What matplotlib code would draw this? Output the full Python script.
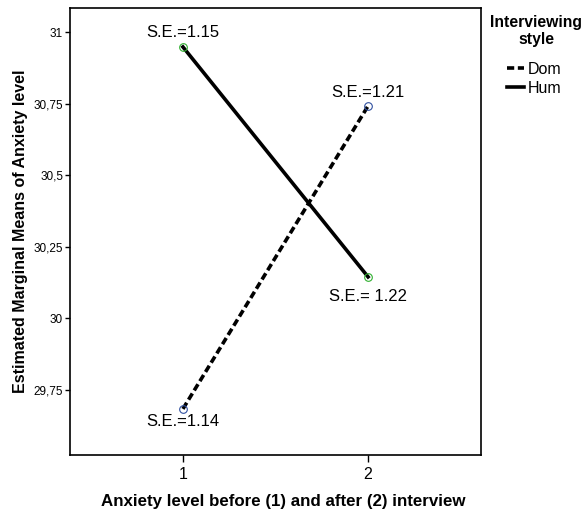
import matplotlib
matplotlib.use("Agg")
import matplotlib.pyplot as plt
from matplotlib.lines import Line2D

plt.rcParams['font.family'] = ['Liberation Sans', 'DejaVu Sans']

times = [1, 2]
dom_means = [29.684, 30.742]
hum_means = [30.948, 30.145]
dom_se = ["S.E.=1.14", "S.E.=1.21"]
hum_se = ["S.E.=1.15", "S.E.= 1.22"]
yticks = [29.75, 30.0, 30.25, 30.5, 30.75, 31.0]
yticklabels = ["29,75", "30", "30,25", "30,5", "30,75", "31"]
series_names = ["Dom", "Hum"]

DASH = (0, (2.0, 1.0))
LW = 2.6

fig = plt.figure(figsize=(5.87, 5.15), dpi=100)
ax = fig.add_axes([70/587, 1-455/515, 411/587, 447/515])

ax.plot(times, dom_means, color='black', lw=LW, ls=DASH, zorder=2)
ax.plot(times, hum_means, color='black', lw=LW, ls='-', zorder=2)
ax.plot(times, dom_means, ls='none', marker='o', ms=5.5, mfc='none', mec='#3050a0', mew=0.8, zorder=3)
ax.plot(times, hum_means, ls='none', marker='o', ms=5.5, mfc='none', mec='#30b030', mew=0.8, zorder=3)

# annotations
offs_dom = [-13, 13]
offs_hum = [14, -20]
for x, y, t, o in zip(times, dom_means, dom_se, offs_dom):
    ax.annotate(t, (x, y), xytext=(0, o * 0.72), textcoords='offset points',
                ha='center', va='center', fontsize=12)
for x, y, t, o in zip(times, hum_means, hum_se, offs_hum):
    ax.annotate(t, (x, y), xytext=(0, o * 0.72), textcoords='offset points',
                ha='center', va='center', fontsize=12)

ax.set_xlim(0.39, 2.61)
ax.set_ylim(29.523, 31.084)
ax.set_xticks(times)
ax.set_xticklabels(["1", "2"], fontsize=11.5)
ax.set_yticks(yticks)
ax.set_yticklabels(yticklabels, fontsize=8.5)
ax.tick_params(axis='x', direction='out', length=5, width=1, pad=3.5)
ax.tick_params(axis='y', direction='out', length=3.5, width=1, pad=1.5)
for s in ax.spines.values():
    s.set_linewidth(1.2)

ax.set_xlabel("Anxiety level before (1) and after (2) interview", fontsize=12.2,
              fontweight='bold')
ax.xaxis.set_label_coords(0.518, -0.088)
ax.set_ylabel("Estimated Marginal Means of Anxiety level", fontsize=11.5,
              fontweight='bold', labelpad=4)

fig.text(536/587, 1-31/515, "Interviewing\nstyle", ha='center', va='center',
         fontsize=11.3, fontweight='bold', linespacing=1.15)

handles = [Line2D([], [], color='black', lw=LW, ls=DASH),
           Line2D([], [], color='black', lw=LW, ls='-')]
leg = fig.legend(handles, series_names, loc='center',
                 bbox_to_anchor=(534/587, 1-79/515), frameon=False,
                 fontsize=11.5, handlelength=1.1, handletextpad=0.2,
                 labelspacing=0.25, borderaxespad=0, borderpad=0)

fig.savefig("out.png", dpi=100)
